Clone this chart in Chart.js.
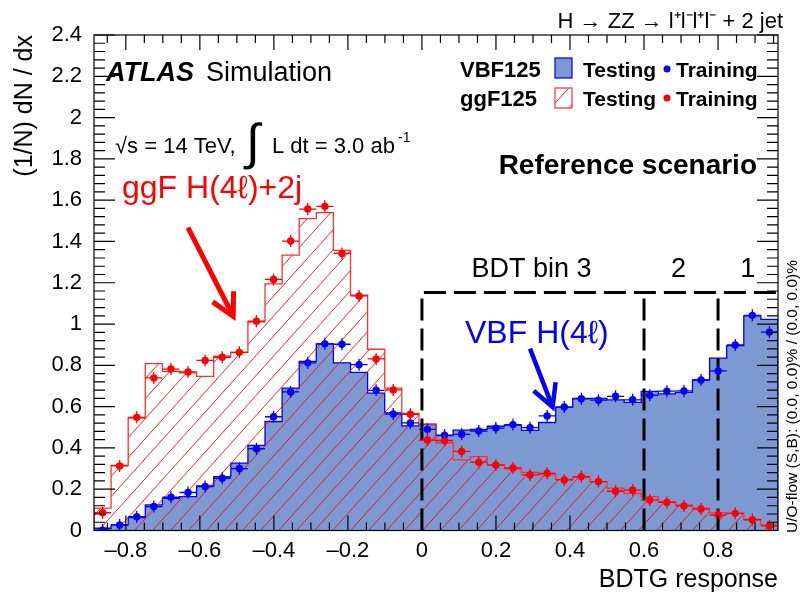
<!DOCTYPE html>
<html>
<head>
<meta charset="utf-8">
<script src="https://cdn.jsdelivr.net/npm/chart.js@4.4.1/dist/chart.umd.min.js"></script>
<style>
  html, body { margin: 0; padding: 0; background: #fff; }
  #wrap { width: 800px; height: 596px; }
</style>
</head>
<body>
<div id="wrap"><canvas id="bdtChart" width="800" height="596"></canvas></div>
<script>
// BDTG response histogram, 40 bins
var xMin = -0.886, xMax = 0.962, nBins = 40;

// VBF125 (signal) testing histogram and training points
var vbfTesting = [0.011, 0.027, 0.062, 0.124, 0.156, 0.164, 0.216, 0.261, 0.326, 0.412,
                  0.528, 0.690, 0.819, 0.904, 0.812, 0.766, 0.665, 0.570, 0.507, 0.515,
                  0.460, 0.486, 0.490, 0.505, 0.510, 0.485, 0.523, 0.598, 0.640, 0.640,
                  0.633, 0.621, 0.674, 0.662, 0.669, 0.730, 0.835, 0.895, 1.040, 1.023];
var vbfTraining = [0.002, 0.027, 0.067, 0.116, 0.161, 0.184, 0.213, 0.253, 0.300, 0.396,
                   0.551, 0.671, 0.812, 0.904, 0.902, 0.803, 0.679, 0.564, 0.521, 0.490,
                   0.462, 0.466, 0.482, 0.496, 0.513, 0.498, 0.555, 0.598, 0.638, 0.631,
                   0.650, 0.633, 0.655, 0.675, 0.676, 0.729, 0.773, 0.899, 1.042, 0.961];

// ggF125 (background) testing histogram and training points
var ggfTesting = [0.108, 0.315, 0.545, 0.808, 0.771, 0.763, 0.747, 0.844, 0.863, 1.011,
                  1.195, 1.334, 1.511, 1.540, 1.357, 1.140, 0.878, 0.690, 0.567, 0.512,
                  0.425, 0.342, 0.358, 0.318, 0.299, 0.281, 0.269, 0.248, 0.258, 0.237,
                  0.205, 0.180, 0.164, 0.140, 0.124, 0.108, 0.087, 0.083, 0.054, 0.027];
var ggfTraining = [0.086, 0.313, 0.548, 0.739, 0.782, 0.768, 0.824, 0.839, 0.863, 1.014,
                   1.216, 1.402, 1.557, 1.570, 1.342, 1.136, 0.831, 0.681, 0.563, 0.438,
                   0.436, 0.383, 0.331, 0.317, 0.303, 0.269, 0.277, 0.245, 0.261, 0.237,
                   0.190, 0.196, 0.148, 0.136, 0.119, 0.104, 0.075, 0.083, 0.052, 0.022];

// BDT category boundaries (dashed box)
var bdtBinEdges = [0, 0.6, 0.8];
var bdtBinTop = 1.153;
var bdtBinLabels = [{ text: 'BDT bin 3', x: 0.296 }, { text: '2', x: 0.693 }, { text: '1', x: 0.88 }];

var FONT = "'Liberation Sans', Arial, Helvetica, sans-serif";
Chart.defaults.font.family = FONT;
Chart.defaults.color = '#000';

var binW = (xMax - xMin) / nBins;
var edges = [], centers = [];
for (var i = 0; i <= nBins; i++) edges.push(xMin + i * binW);
for (var i = 0; i < nBins; i++) centers.push(xMin + (i + 0.5) * binW);

function histPoints(vals) {
    var pts = [{ x: edges[0], y: 0 }];
    for (var i = 0; i < vals.length; i++) pts.push({ x: edges[i], y: vals[i] });
    pts.push({ x: edges[nBins], y: vals[vals.length - 1] });
    pts.push({ x: edges[nBins], y: 0 });
    return pts;
}

function makeHatch(color) {
    var c = document.createElement('canvas');
    c.width = 18; c.height = 20;
    var g = c.getContext('2d');
    g.strokeStyle = color;
    g.lineWidth = 1;
    for (var k = -1; k <= 1; k++) {
        g.beginPath();
        g.moveTo(k * 18, 20);
        g.lineTo(k * 18 + 18, 0);
        g.stroke();
    }
    return g.createPattern(c, 'repeat');
}
var redHatch = makeHatch('rgba(255,0,0,0.85)');

function fmtTick(v) {
    if (Math.abs(v) < 1e-9) return '0';
    return String(+v.toFixed(1)).replace('-', '\u2013');
}

var datasets = [
    {
        type: 'scatter', label: 'VBF125 Training',
        data: centers.map(function (c, i) { return { x: c, y: vbfTraining[i] }; }),
        backgroundColor: '#0000ff', borderColor: '#0000ff', pointRadius: 3.7, borderWidth: 0, order: 0
    },
    {
        type: 'scatter', label: 'ggF125 Training',
        data: centers.map(function (c, i) { return { x: c, y: ggfTraining[i] }; }),
        backgroundColor: '#ff0000', borderColor: '#ff0000', pointRadius: 3.7, borderWidth: 0, order: 0
    },
    {
        type: 'line', label: 'ggF125 Testing', data: histPoints(ggfTesting),
        stepped: true, borderColor: '#ff3030', borderWidth: 1.3, pointRadius: 0,
        fill: 'origin', backgroundColor: redHatch, order: 2
    },
    {
        type: 'line', label: 'VBF125 Testing', data: histPoints(vbfTesting),
        stepped: true, borderColor: '#0000ee', borderWidth: 1.3, pointRadius: 0,
        fill: 'origin', backgroundColor: '#7d99d1', order: 3
    }
];

// dashed BDT category box
var dashStyle = { type: 'line', borderColor: '#000', borderWidth: 3, borderDash: [22, 8], pointRadius: 0, fill: false, order: 1 };
datasets.push(Object.assign({ label: 'bin3', data: [{ x: bdtBinEdges[0], y: 0 }, { x: bdtBinEdges[0], y: bdtBinTop }, { x: xMax, y: bdtBinTop }] }, dashStyle));
datasets.push(Object.assign({ label: 'bin2', data: [{ x: bdtBinEdges[1], y: 0 }, { x: bdtBinEdges[1], y: bdtBinTop }] }, dashStyle));
datasets.push(Object.assign({ label: 'bin1', data: [{ x: bdtBinEdges[2], y: 0 }, { x: bdtBinEdges[2], y: bdtBinTop }] }, dashStyle));

function drawArrow(ctx, x0, y0, x1, y1, color, width) {
    var ang = Math.atan2(y1 - y0, x1 - x0);
    var len = 25;
    ctx.save();
    ctx.strokeStyle = color;
    ctx.lineWidth = width;
    ctx.lineCap = 'butt';
    ctx.lineJoin = 'miter';
    ctx.beginPath();
    ctx.moveTo(x0, y0);
    ctx.lineTo(x1, y1);
    ctx.stroke();
    ctx.beginPath();
    ctx.moveTo(x1 + len * Math.cos(ang + Math.PI - 0.49), y1 + len * Math.sin(ang + Math.PI - 0.49));
    ctx.lineTo(x1, y1);
    ctx.lineTo(x1 + len * Math.cos(ang + Math.PI + 0.49), y1 + len * Math.sin(ang + Math.PI + 0.49));
    ctx.stroke();
    ctx.restore();
}

function text(ctx, s, x, y, font, color, align) {
    ctx.font = font;
    ctx.fillStyle = color || '#000';
    ctx.textAlign = align || 'left';
    ctx.textBaseline = 'alphabetic';
    ctx.fillText(s, x, y);
}

var decorPlugin = {
    id: 'decor',
    afterDatasetsDraw: function (chart) {
        var ctx = chart.ctx, xs = chart.scales.x, ys = chart.scales.y, a = chart.chartArea;

        // error bars of the training points
        ctx.save();
        ctx.beginPath();
        ctx.rect(a.left, a.top, a.right - a.left, a.bottom - a.top);
        ctx.clip();
        [[vbfTraining, '#0000ff'], [ggfTraining, '#ff0000']].forEach(function (s) {
            ctx.strokeStyle = s[1];
            ctx.lineWidth = 1.3;
            for (var i = 0; i < nBins; i++) {
                var y = ys.getPixelForValue(s[0][i]);
                var xc = xs.getPixelForValue(centers[i]);
                ctx.beginPath();
                ctx.moveTo(xs.getPixelForValue(edges[i]), y);
                ctx.lineTo(xs.getPixelForValue(edges[i + 1]), y);
                ctx.moveTo(xc, y - 6);
                ctx.lineTo(xc, y + 6);
                ctx.stroke();
            }
        });
        ctx.restore();

        // frame and inward ticks
        ctx.save();
        ctx.strokeStyle = '#000';
        ctx.lineWidth = 1.2;
        ctx.strokeRect(a.left, a.top, a.right - a.left, a.bottom - a.top);
        ctx.beginPath();
        xs.ticks.forEach(function (t) {
            var px = xs.getPixelForValue(t.value);
            ctx.moveTo(px, a.bottom); ctx.lineTo(px, a.bottom - 15);
            ctx.moveTo(px, a.top); ctx.lineTo(px, a.top + 15);
        });
        for (var v = -0.85; v < xMax; v += 0.05) {
            var px = xs.getPixelForValue(v);
            ctx.moveTo(px, a.bottom); ctx.lineTo(px, a.bottom - 8);
            ctx.moveTo(px, a.top); ctx.lineTo(px, a.top + 8);
        }
        ys.ticks.forEach(function (t) {
            var py = ys.getPixelForValue(t.value);
            ctx.moveTo(a.left, py); ctx.lineTo(a.left + 21, py);
            ctx.moveTo(a.right, py); ctx.lineTo(a.right - 21, py);
        });
        for (var w = 0.04; w < 2.4; w += 0.04) {
            var py = ys.getPixelForValue(w);
            ctx.moveTo(a.left, py); ctx.lineTo(a.left + 11, py);
            ctx.moveTo(a.right, py); ctx.lineTo(a.right - 11, py);
        }
        ctx.stroke();
        ctx.restore();

        // arrows
        drawArrow(ctx, xs.getPixelForValue(-0.632), ys.getPixelForValue(1.467),
            xs.getPixelForValue(-0.51), ys.getPixelForValue(1.038), '#ff0000', 5);
        drawArrow(ctx, xs.getPixelForValue(0.292), ys.getPixelForValue(0.881),
            xs.getPixelForValue(0.353), ys.getPixelForValue(0.598), '#0000ff', 4.5);

        // labels inside the frame
        ctx.save();
        text(ctx, 'ATLAS', 106, 81, 'italic bold 27px ' + FONT);
        text(ctx, 'Simulation', 206, 81, '27px ' + FONT);
        text(ctx, '\u221As = 14 TeV,', 115, 153, '22px ' + FONT);
        text(ctx, '\u222B', 246, 159, '50px ' + FONT);
        text(ctx, 'L dt = 3.0 ab', 272, 153, '22px ' + FONT);
        text(ctx, '-1', 398, 142, '14px ' + FONT);
        text(ctx, 'ggF H(4\u2113)+2j', 122, 198, '32px ' + FONT, '#ff0000');
        text(ctx, 'VBF H(4\u2113)', 465, 343, '32px ' + FONT, '#0000ff');
        text(ctx, 'Reference scenario', 757, 174, 'bold 28px ' + FONT, '#000', 'right');
        bdtBinLabels.forEach(function (b) {
            text(ctx, b.text, xs.getPixelForValue(b.x), 277, '27px ' + FONT, '#000', 'center');
        });

        // legend
        var lf = 'bold 22px ' + FONT;
        text(ctx, 'VBF125', 460, 76.5, lf);
        text(ctx, 'ggF125', 460, 105.5, lf);
        ctx.fillStyle = '#7d99d1';
        ctx.fillRect(555, 58, 17, 20);
        ctx.strokeStyle = '#0000ee'; ctx.lineWidth = 1.2;
        ctx.strokeRect(555, 58, 17, 20);
        ctx.fillStyle = redHatch;
        ctx.fillRect(555, 88, 17, 20);
        ctx.strokeStyle = '#ff3030';
        ctx.strokeRect(555, 88, 17, 20);
        text(ctx, 'Testing', 583, 76.5, 'bold 21px ' + FONT);
        text(ctx, 'Testing', 583, 105.5, 'bold 21px ' + FONT);
        ctx.fillStyle = '#0000ff';
        ctx.beginPath(); ctx.arc(667, 69, 3.5, 0, 2 * Math.PI); ctx.fill();
        ctx.fillStyle = '#ff0000';
        ctx.beginPath(); ctx.arc(667, 98, 3.5, 0, 2 * Math.PI); ctx.fill();
        text(ctx, 'Training', 676, 76.5, 'bold 21px ' + FONT);
        text(ctx, 'Training', 676, 105.5, 'bold 21px ' + FONT);

        // outside the frame
        text(ctx, 'H \u2192 ZZ \u2192 l\u207Al\u207Bl\u207Al\u207B + 2 jet', 783, 28, '22px ' + FONT, '#000', 'right');
        ctx.translate(797, 533);
        ctx.rotate(-Math.PI / 2);
        text(ctx, 'U/O-flow (S,B): (0.0, 0.0)% / (0.0, 0.0)%', 0, 0, '15.5px ' + FONT, '#000', 'left');
        ctx.restore();
    }
};

new Chart(document.getElementById('bdtChart'), {
    type: 'line',
    data: { datasets: datasets },
    options: {
        responsive: false,
        animation: false,
        layout: { padding: { top: 35, right: 22, left: 0, bottom: 0 } },
        elements: { line: { tension: 0 } },
        plugins: {
            legend: { display: false },
            tooltip: { enabled: false }
        },
        scales: {
            x: {
                type: 'linear', min: xMin, max: xMax,
                grid: { display: false, drawTicks: false },
                border: { display: false },
                ticks: {
                    stepSize: 0.2, includeBounds: false, autoSkip: false, maxRotation: 0,
                    padding: 7, color: '#000', font: { size: 22 },
                    callback: fmtTick
                },
                title: {
                    display: true, text: 'BDTG response', align: 'end', color: '#000',
                    font: { size: 25 }, padding: { top: 0, bottom: 1 }
                },
                afterFit: function (s) { s.height = 65.5; }
            },
            y: {
                type: 'linear', min: 0, max: 2.4,
                grid: { display: false, drawTicks: false },
                border: { display: false },
                ticks: {
                    stepSize: 0.2, padding: 12, color: '#000', font: { size: 22 },
                    callback: fmtTick
                },
                title: {
                    display: true, text: '(1/N) dN / dx', align: 'end', color: '#000',
                    font: { size: 25 }, padding: { top: 10, bottom: 0 }
                },
                afterFit: function (s) { s.width = 94; }
            }
        }
    },
    plugins: [decorPlugin]
});
</script>
</body>
</html>
